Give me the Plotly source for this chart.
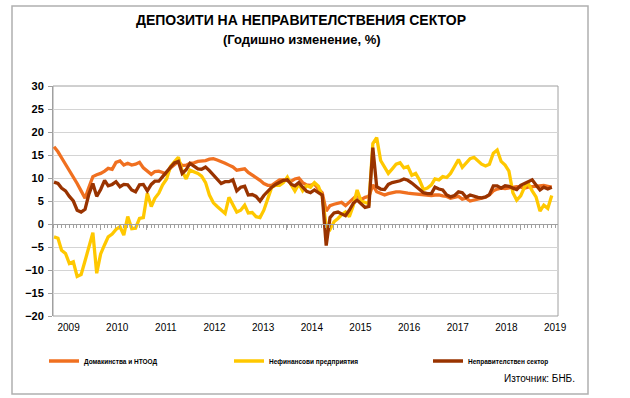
import pandas as pd
import plotly.graph_objects as go

# ---------------- data (monthly, Jan 2009 - Sep 2019, % y/y) ----------------
months = pd.date_range("2009-01-01", periods=129, freq="MS")

households = [  # Домакинства и НТООД
    16.8, 15.7, 14.4, 13.0, 11.7, 10.3, 8.8, 7.2, 5.6, 8.0,
    10.3, 10.7, 11.0, 11.5, 12.1, 11.9, 13.4, 13.7, 12.8, 13.2,
    12.8, 13.0, 13.4, 12.2, 11.4, 10.8, 11.4, 11.5, 11.2, 10.8,
    12.2, 13.0, 13.6, 12.7, 12.8, 13.2, 13.3, 13.6, 13.7, 13.8,
    14.1, 14.2, 13.9, 13.6, 13.2, 12.8, 12.4, 11.7, 11.9, 12.0,
    11.2, 10.7, 10.1, 9.5, 8.8, 8.4, 8.4, 9.0, 9.6, 9.6,
    9.5, 9.3, 9.8, 10.0, 9.0, 8.5, 8.4, 8.7, 7.6, 6.8,
    2.8, 4.0, 4.3, 4.6, 4.7, 4.0, 4.8, 5.6, 6.3, 5.3,
    5.8, 6.0, 8.5, 7.0, 6.6, 6.3, 6.6, 6.8, 7.0, 7.0,
    6.8, 6.7, 6.6, 6.5, 6.4, 6.3, 6.3, 6.2, 6.3, 6.3,
    6.1, 6.0, 5.6, 5.8, 6.0, 5.4, 5.6, 5.0, 5.2, 5.5,
    5.6, 5.8, 6.3, 7.2, 7.6, 7.8, 7.7, 7.8, 8.0, 8.1,
    8.0, 7.8, 8.0, 8.1, 8.2, 8.4, 8.4, 8.2, 8.0,
]

corporates = [  # Нефинансови предприятия
    -2.8, -3.1, -5.7, -6.4, -8.6, -8.2, -11.4, -11.0, -8.0, -5.0,
    -1.9, -10.7, -6.5, -4.5, -2.8, -2.2, -1.2, -0.6, -2.4, 1.6,
    -1.0, -0.9, 1.2, 1.4, 6.7, 3.8, 5.6, 6.7, 8.5, 9.8,
    12.5, 13.5, 14.5, 11.5, 9.8, 11.7, 11.3, 11.0, 10.4, 9.0,
    6.3, 4.6, 3.8, 3.0, 2.3, 5.8, 4.0, 2.6, 3.0, 4.1,
    2.4, 2.5, 1.6, 1.4, 3.0, 5.5, 8.0, 8.4, 8.4, 9.0,
    10.2, 8.5, 7.2, 8.7, 7.2, 8.3, 8.0, 9.0, 8.2, 6.0,
    -0.5, -1.2, 0.5, 1.2, 2.0, 2.6, 1.6, 4.0, 7.4, 5.0,
    4.7, 4.4, 17.5, 18.8, 13.8, 12.3, 11.0, 12.0, 13.0, 13.3,
    12.2, 12.5, 10.6, 11.0, 9.5, 7.5, 7.8, 8.5, 9.8, 9.6,
    10.3, 10.1, 11.0, 12.5, 14.0, 12.3, 13.4, 14.2, 14.5, 13.8,
    13.0, 12.6, 13.0, 15.4, 16.1, 13.6, 12.8, 11.5, 6.8, 5.2,
    6.1, 8.1, 8.8, 7.2, 5.9, 2.8, 4.1, 3.4, 6.2,
]

nongov = [  # Неправителствен сектор
    9.1, 8.8, 7.8, 7.2, 6.0, 5.0, 3.0, 2.6, 3.2, 6.5,
    8.8, 6.0, 7.5, 9.5, 8.3, 8.6, 9.2, 8.1, 8.6, 8.5,
    7.4, 7.0, 8.5, 8.6, 7.2, 8.6, 9.3, 9.3, 10.3, 11.2,
    12.3, 13.3, 13.6, 11.0, 11.8, 13.2, 12.6, 12.0, 11.9, 12.4,
    11.6, 10.6, 9.8, 8.8, 9.2, 9.2, 9.6, 7.2, 8.0, 8.2,
    6.3, 6.4, 6.0, 5.0, 6.2, 7.2, 8.0, 8.6, 9.0, 9.5,
    9.6, 8.6, 8.3, 9.0, 8.0, 7.1, 6.8, 7.4, 6.8, 6.3,
    -4.7, 1.4, 2.4, 2.6, 2.2, 1.8, 3.0, 4.5, 5.2, 4.3,
    3.6, 3.8, 16.6, 8.1, 7.6, 7.5, 8.6, 9.0, 9.2, 9.4,
    9.8, 9.5, 8.9, 8.3, 7.5, 6.8, 6.6, 6.6, 8.0, 7.6,
    7.4, 6.3, 5.9, 6.2, 7.0, 6.8, 5.8, 6.3, 6.0, 5.8,
    5.7, 5.9, 6.4, 8.3, 8.3, 7.8, 8.3, 8.2, 7.8, 7.5,
    8.4, 8.8, 9.2, 9.6, 8.5, 7.4, 8.0, 7.6, 8.0,
]

series_names = ["Домакинства и НТООД", "Нефинансови предприятия", "Неправителствен сектор"]
series_colors = ["#F07020", "#FFC800", "#993300"]
year_labels = [str(y) for y in range(2009, 2020)]
y_ticks = list(range(-20, 31, 5))
major_ticks = [f"{y}-12-27" for y in range(2009, 2019)]

FONT = "Arial, 'Liberation Sans', sans-serif"
W, H = 630, 398
L, R, T, B = 53, 72, 86, 82
PW, PH = W - L - R, H - T - B


def px_x(p):
    return (p - L) / PW


def px_y(p):
    return (H - B - p) / PH


legend_ids = ["legend", "legend2", "legend3"]
legend_left_px = [44, 229, 428]

fig = go.Figure()
for name, vals, col, lg in zip(series_names, [households, corporates, nongov],
                               series_colors, legend_ids):
    fig.add_trace(go.Scatter(x=months, y=vals, name=name, mode="lines",
                             line=dict(color=col, width=3.3), legend=lg))

# helper trace for the year-label axis
fig.add_trace(go.Scatter(x=[2010], y=[0], xaxis="x2", mode="markers",
                         marker=dict(opacity=0), showlegend=False, hoverinfo="skip"))

legend_style = dict(
    orientation="h", xanchor="left", yanchor="middle", y=px_y(361),
    font=dict(size=6.5, family=FONT, color="#000000", weight="bold"),
    itemwidth=30, bgcolor="rgba(0,0,0,0)",
)

fig.update_layout(
    width=W, height=H,
    margin=dict(l=L, r=R, t=T, b=B, autoexpand=False),
    paper_bgcolor="white", plot_bgcolor="white",
    font=dict(family=FONT, color="#000000"),
    showlegend=True,
    legend=dict(x=px_x(legend_left_px[0]), **legend_style),
    legend2=dict(x=px_x(legend_left_px[1]), **legend_style),
    legend3=dict(x=px_x(legend_left_px[2]), **legend_style),
    xaxis=dict(
        type="date", range=["2008-12-24", "2019-10-20"],
        anchor="free", position=0.4,
        showgrid=False, zeroline=False,
        showline=True, linecolor="#a0a0a0", linewidth=1,
        tickmode="array", tickvals=major_ticks, showticklabels=False,
        ticks="outside", ticklen=5, tickcolor="#a0a0a0",
        minor=dict(tickmode="linear", tick0="2008-12-27", dtick="M1",
                   ticks="outside", ticklen=3, tickcolor="#a0a0a0", showgrid=False),
    ),
    xaxis2=dict(
        overlaying="x", anchor="y", side="bottom",
        range=[2008.68, 2019.06], tickmode="array",
        tickvals=list(range(2009, 2020)), ticktext=year_labels,
        showgrid=False, zeroline=False, showline=False, ticks="",
        tickfont=dict(size=10, family=FONT, color="#000000"),
        ticklabelstandoff=4,
    ),
    yaxis=dict(
        range=[-20, 30], tickmode="array", tickvals=y_ticks,
        showgrid=True, gridcolor="#d4d4d4", gridwidth=1,
        zeroline=False,
        showline=True, linecolor="#a0a0a0", linewidth=1,
        ticks="outside", ticklen=4, tickcolor="#a0a0a0",
        tickfont=dict(size=11, family=FONT, color="#000000", weight="bold"),
        ticklabelstandoff=2,
    ),
    annotations=[
        dict(text="<b>ДЕПОЗИТИ НА НЕПРАВИТЕЛСТВЕНИЯ СЕКТОР</b>", xref="paper", yref="paper",
             x=px_x(301), y=px_y(20), xanchor="center", yanchor="middle",
             showarrow=False, font=dict(size=14, family=FONT, color="#000000")),
        dict(text="<b>(Годишно изменение, %)</b>", xref="paper", yref="paper",
             x=px_x(302), y=px_y(39), xanchor="center", yanchor="middle",
             showarrow=False, font=dict(size=13, family=FONT, color="#000000")),
        dict(text="Източник: БНБ.", xref="paper", yref="paper",
             x=px_x(577), y=px_y(378), xanchor="right", yanchor="middle",
             showarrow=False, font=dict(size=10, family=FONT, color="#000000")),
    ],
    shapes=[
        dict(type="rect", xref="paper", yref="paper", x0=0, x1=1, y0=0, y1=1,
             line=dict(color="#a0a0a0", width=1), layer="below"),
        dict(type="rect", xref="paper", yref="paper",
             x0=px_x(12), x1=px_x(588), y0=px_y(394), y1=px_y(6),
             line=dict(color="#b0b0b0", width=1.5), layer="above"),
    ],
)

fig.write_html(
    "out.html",
    config={"displayModeBar": False},
    post_script="document.body.style.margin='0';document.body.style.padding='0';",
)
